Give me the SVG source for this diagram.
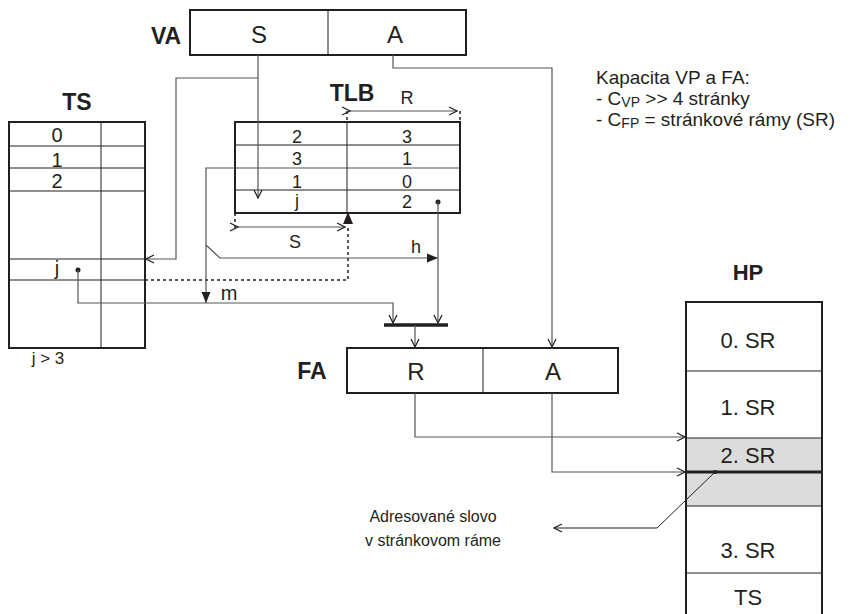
<svg xmlns="http://www.w3.org/2000/svg" width="865" height="614" viewBox="0 0 865 614">
<style>
.box{fill:none;stroke:#231f20;stroke-width:2}
.ln{fill:none;stroke:#231f20;stroke-width:1}
.c{fill:none;stroke:#555;stroke-width:1.2}
.dash{fill:none;stroke:#231f20;stroke-width:1.5;stroke-dasharray:3,3}
.t{font-family:"Liberation Sans",Arial,sans-serif;fill:#231f20;text-anchor:middle}
.b{font-weight:bold}
.note{font-family:"Liberation Sans",Arial,sans-serif;font-size:19px;fill:#231f20}
</style>
<defs>
<marker id="open" markerWidth="10" markerHeight="10" refX="9" refY="5" orient="auto" markerUnits="userSpaceOnUse"><path d="M1,1 L9,5 L1,9" fill="none" stroke="#231f20" stroke-width="1.2"/></marker>
<marker id="fill" markerWidth="12" markerHeight="12" refX="11" refY="6" orient="auto" markerUnits="userSpaceOnUse"><path d="M0,1.5 L11,6 L0,10.5 Z" fill="#231f20"/></marker>
</defs>
<rect width="865" height="614" fill="#fff"/>

<g id="VA">
<text class="t b" x="166" y="44" font-size="23">VA</text>
<rect class="box" x="190" y="10" width="276" height="45"/>
<line class="ln" x1="328" y1="10" x2="328" y2="55" stroke-width="2"/>
<text class="t" x="259" y="43" font-size="24">S</text>
<text class="t" x="395" y="43" font-size="24">A</text>
</g>

<g id="TS">
<text class="t b" x="77" y="110" font-size="23">TS</text>
<line class="ln" x1="101" y1="122" x2="101" y2="348"/>
<line class="ln" x1="9" y1="146" x2="145" y2="146"/>
<line class="ln" x1="9" y1="168" x2="145" y2="168"/>
<line class="ln" x1="9" y1="191" x2="145" y2="191"/>
<line class="ln" x1="9" y1="259" x2="145" y2="259"/>
<line class="ln" x1="9" y1="280" x2="145" y2="280"/>
<rect class="box" x="9" y="122" width="136" height="226"/>
<text class="t" x="57" y="142" font-size="20">0</text>
<text class="t" x="57" y="167" font-size="20">1</text>
<text class="t" x="57" y="188" font-size="20">2</text>
<text class="t" x="57" y="275" font-size="20">j</text>
<text class="t" x="48" y="364" font-size="17">j  &gt; 3</text>
</g>

<g id="TLB">
<text class="t b" x="352" y="101" font-size="23">TLB</text>
<line class="ln" x1="235" y1="145" x2="460" y2="145"/>
<line class="ln" x1="235" y1="190" x2="460" y2="190"/>
<line class="c" x1="235" y1="168" x2="460" y2="168"/>
<rect class="box" x="235" y="122" width="225" height="91"/>
<line class="ln" x1="347" y1="122" x2="347" y2="213" stroke-width="2"/>
<text class="t" x="297" y="143" font-size="18">2</text>
<text class="t" x="297" y="165" font-size="18">3</text>
<text class="t" x="297" y="188" font-size="18">1</text>
<text class="t" x="297" y="207" font-size="18">j</text>
<text class="t" x="407" y="143" font-size="18">3</text>
<text class="t" x="407" y="165" font-size="18">1</text>
<text class="t" x="407" y="188" font-size="18">0</text>
<text class="t" x="407" y="208" font-size="18">2</text>
<text class="t" x="407" y="104" font-size="18">R</text>
<line class="ln" x1="350" y1="111" x2="457" y2="111" marker-start="url(#open)" marker-end="url(#open)" style="stroke:#555"/>
<line class="dash" x1="347" y1="111" x2="347" y2="122" stroke-width="1"/>
<line class="dash" x1="460" y1="111" x2="460" y2="122" stroke-width="1"/>
<text class="t" x="295" y="248" font-size="18">S</text>
<line class="ln" x1="238" y1="227" x2="345" y2="227" marker-start="url(#open)" marker-end="url(#open)" style="stroke:#555"/>
<line class="dash" x1="235" y1="213" x2="235" y2="229" stroke-width="1"/>
</g>

<g id="FA">
<text class="t b" x="312" y="379" font-size="23">FA</text>
<rect class="box" x="347" y="348" width="271" height="45"/>
<line class="ln" x1="483" y1="348" x2="483" y2="393" stroke-width="2"/>
<text class="t" x="416" y="380" font-size="24">R</text>
<text class="t" x="553" y="380" font-size="24">A</text>
</g>

<g id="HP">
<text class="t b" x="748" y="280" font-size="22">HP</text>
<rect x="686" y="438" width="136" height="68" fill="#dcdcdc"/>
<line class="ln" x1="686" y1="371" x2="822" y2="371"/>
<line class="ln" x1="686" y1="438" x2="822" y2="438"/>
<line class="ln" x1="686" y1="506" x2="822" y2="506" stroke-width="1.5"/>
<line class="ln" x1="686" y1="573" x2="822" y2="573"/>
<line x1="686" y1="472" x2="822" y2="472" stroke="#231f20" stroke-width="3"/>
<path class="box" d="M686,620 L686,302 L822,302 L822,620"/>
<text class="t" x="748" y="348" font-size="22">0. SR</text>
<text class="t" x="748" y="415" font-size="22">1. SR</text>
<text class="t" x="748" y="463" font-size="22">2. SR</text>
<text class="t" x="748" y="558" font-size="22">3. SR</text>
<text class="t" x="748" y="605" font-size="22">TS</text>
</g>

<g id="notes">
<text class="note" x="596" y="84">Kapacita VP a FA:</text>
<text class="note" x="596" y="105">- C<tspan font-size="14" dy="2">VP</tspan><tspan dy="-2"> &gt;&gt; 4 stránky</tspan></text>
<text class="note" x="596" y="126">- C<tspan font-size="14" dy="2">FP</tspan><tspan dy="-2"> = stránkové rámy (SR)</tspan></text>
<text class="t" x="433" y="522" font-size="16">Adresované slovo</text>
<text class="t" x="433" y="546" font-size="16">v stránkovom ráme</text>
</g>

<g id="connectors">
<polyline class="c" points="258,55 258,198" marker-end="url(#open)"/>
<polyline class="c" points="258,78 176,78 176,259 146,259" marker-end="url(#open)"/>
<polyline class="c" points="393,55 393,68 552,68 552,347" marker-end="url(#open)"/>
<polyline class="dash" points="145,280 348,280 348,226"/>
<path d="M343,224 L348,212 L353,224 Z" fill="#231f20"/>
<polyline class="c" points="235,168 206,168 206,303" marker-end="url(#fill)"/>
<polyline class="c" points="206,245 220,258 438,258" marker-end="url(#fill)"/>
<text class="t" x="416" y="253" font-size="18">h</text>
<text class="t" x="229" y="300" font-size="20">m</text>
<circle cx="78" cy="270" r="2.5" fill="#231f20"/>
<polyline class="c" points="78,270 78,303 393,303 393,323" marker-end="url(#open)"/>
<circle cx="438" cy="202" r="2.5" fill="#231f20"/>
<polyline class="c" points="438,202 438,323" marker-end="url(#open)"/>
<line x1="384" y1="325" x2="448" y2="325" stroke="#231f20" stroke-width="3.5"/>
<polyline class="c" points="415,325 415,347" marker-end="url(#open)"/>
<polyline class="c" points="415,393 415,437 685,437" marker-end="url(#open)"/>
<polyline class="c" points="552,393 552,472 685,472" marker-end="url(#open)"/>
<circle cx="715" cy="472" r="2" fill="#231f20"/>
<polyline class="ln" points="715,472 657,528 554,528" marker-end="url(#open)"/>
</g>
</svg>
